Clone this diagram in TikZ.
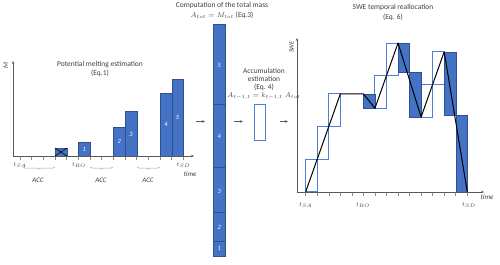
\documentclass[tikz,border=0pt]{standalone}
\usepackage{fontspec}
\setmainfont{Carlito}
\usetikzlibrary{arrows.meta,decorations.pathreplacing}
\definecolor{barblue}{HTML}{4472C4}
\definecolor{baredge}{HTML}{2F528F}
\definecolor{accline}{HTML}{4F7FD6}
\definecolor{txt}{HTML}{404040}
\definecolor{axisgray}{HTML}{595959}
\begin{document}
\begin{tikzpicture}[x=1bp,y=-1bp, font=\fontsize{7.5}{9.5}\selectfont, text=txt,
 bar/.style={fill=barblue,draw=baredge,line width=0.4bp},
 accbox/.style={draw=accline,fill=white,line width=0.9bp},
 axis/.style={draw=axisgray,line width=0.6bp,-{Stealth[length=3bp,width=2.5bp]}},
 tickmark/.style={draw=axisgray!70,line width=0.5bp},
 lbl/.style={inner sep=0pt,font=\fontsize{7}{8}\selectfont\itshape},
 tl/.style={inner sep=0pt,font=\fontsize{6.5}{7}\selectfont},
 num/.style={text=white,font=\fontsize{6.5}{7}\selectfont\itshape,inner sep=0pt},
 flow/.style={draw=axisgray,line width=0.6bp,-{Stealth[length=3bp,width=2.5bp]}},
 accbrace/.style={draw=gray!70,line width=0.5bp,decorate,decoration={brace,mirror,amplitude=2bp}},
 title/.style={align=center,inner sep=0pt},
 swe/.style={draw=black,line width=1bp,line join=round}
]
\fill[white] (0,0) rectangle (500,264);
\useasboundingbox (0,0) rectangle (500,264);

% ---------- titles ----------
\node[title] (t1) at (100,69) {Potential melting estimation\\(Eq.1)};
\node[title] (t2) at (222,10.5) {Computation of the total mass\\$A_{tot}=M_{tot}$ (Eq.3)};
\node[title,font=\fontsize{7.5}{7.8}\selectfont] (t3) at (264,84) {Accumulation\\estimation\\(Eq. 4)\\$A_{t-1,t}=k_{t-1,t}\;A_{tot}$};
\node[title] (t4) at (393,12.5) {SWE temporal reallocation\\(Eq. 6)};

% ---------- left panel ----------
\foreach \i in {0,...,14} \draw[tickmark] ({20+11.667*\i},156) -- ++(0,3.5);
\draw[bar] (55,156) rectangle (66.7,148);
\draw[black,line width=0.6bp] (55,148) -- (66.7,156) (55,156) -- (66.7,148);
\draw[bar] (78.3,156) rectangle (90,141.7);
\draw[bar] (113.3,156) rectangle (125,127);
\draw[bar] (125,156) rectangle (136.7,111);
\draw[bar] (160,156) rectangle (171.7,92.7);
\draw[bar] (171.7,156) rectangle (183.3,79);
\node[num] (l1) at (84.2,149) {1};
\node[num] (l2) at (119.2,141.5) {2};
\node[num] (l3) at (130.9,134) {3};
\node[num] (l4) at (165.9,124.5) {4};
\node[num] (l5) at (177.5,117.5) {5};
\coordinate (o1) at (13,156);
\coordinate (xe1) at (194,156);
\coordinate (ye1) at (13,61);
\draw[axis] (o1) -- (xe1);
\draw[axis] (o1) -- (ye1);
\node[lbl,rotate=90] (m) at (6,66) {M};
\node[tl] (tsa1) at (20,165) {$t_{SA}$};
\node[tl] (tro1) at (79,165) {$t_{RO}$};
\node[tl] (tsd1) at (183.5,165) {$t_{SD}$};
\node[lbl] (time1) at (190,174) {time};
\draw[accbrace] (23,167) -- (55,167);
\draw[accbrace] (90,167) -- (113,167);
\draw[accbrace] (137,167) -- (160,167);
\node[lbl] (acc1) at (38,180) {ACC};
\node[lbl] (acc2) at (101,180) {ACC};
\node[lbl] (acc3) at (148,180) {ACC};

% ---------- middle column ----------
\draw[bar] (213.3,256) rectangle (225,241.5);
\draw[bar] (213.3,241.5) rectangle (225,212.5);
\draw[bar] (213.3,212.5) rectangle (225,167.5);
\draw[bar] (213.3,167.5) rectangle (225,104.5);
\draw[bar] (213.3,104.5) rectangle (225,24);
\node[num] (c1) at (219.2,248.7) {1};
\node[num] (c2) at (219.2,227.5) {2};
\node[num] (c3) at (219.2,191) {3};
\node[num] (c4) at (219.2,136) {4};
\node[num] (c5) at (219.2,65) {5};
\node[draw=accline,line width=0.9bp,minimum width=11bp,minimum height=36bp,inner sep=0pt] (accr) at (260,122) {};
\coordinate (a1s) at (196,121.5);
\coordinate (a1e) at (205,121.5);
\coordinate (a2s) at (234,121.5);
\coordinate (a2e) at (243,121.5);
\coordinate (a3s) at (280,121.5);
\coordinate (a3e) at (288,121.5);
\draw[flow] (a1s) -- (a1e);
\draw[flow] (a2s) -- (a2e);
\draw[flow] (a3s) -- (a3e);

% ---------- right panel ----------
\def\X#1{(305.7+11.54*#1)}
\foreach \i in {0,...,14} \draw[tickmark] ({305.7+11.54*\i},192) -- ++(0,3.5);
% accumulation boxes
\draw[accbox] ({\X{0}},191.7) rectangle ({\X{1}},159.1);
\draw[accbox] ({\X{1}},159.1) rectangle ({\X{2}},126.5);
\draw[accbox] ({\X{2}},126.5) rectangle ({\X{3}},93.9);
\draw[accbox] ({\X{6}},108.2) rectangle ({\X{7}},75.6);
\draw[accbox] ({\X{7}},75.6) rectangle ({\X{8}},43.0);
\draw[accbox] ({\X{10}},117.0) rectangle ({\X{11}},84.4);
\draw[accbox] ({\X{11}},84.4) rectangle ({\X{12}},51.8);
% melting boxes
\draw[bar] ({\X{5}},93.9) rectangle ({\X{6}},108.2);
\draw[bar] ({\X{8}},43.0) rectangle ({\X{9}},72.0);
\draw[bar] ({\X{9}},72.0) rectangle ({\X{10}},117.0);
\draw[bar] ({\X{12}},51.8) rectangle ({\X{13}},114.8);
\draw[bar] ({\X{13}},114.8) rectangle ({\X{14}},191.7);
% SWE curve
\draw[swe] ({\X{0}},191.7) -- ({\X{3}},93.9) -- ({\X{5}},93.9) -- ({\X{6}},108.2)
  -- ({\X{8}},43.0) -- ({\X{10}},117.0) -- ({\X{12}},51.8) -- ({\X{14}},191.7);
\coordinate (o2) at (297,192);
\coordinate (xe2) at (484,192);
\coordinate (ye2) at (297,38);
\draw[axis] (o2) -- (xe2);
\draw[axis] (o2) -- (ye2);
\node[lbl,rotate=90,font=\fontsize{6.5}{7}\selectfont\itshape] (swe) at (291.5,47) {SWE};
\node[tl] (tsa2) at (305.7,205) {$t_{SA}$};
\node[tl] (tro2) at (363,205) {$t_{RO}$};
\node[tl] (tsd2) at (469,205) {$t_{SD}$};
\node[lbl] (time2) at (487,197) {time};
\end{tikzpicture}
\end{document}
